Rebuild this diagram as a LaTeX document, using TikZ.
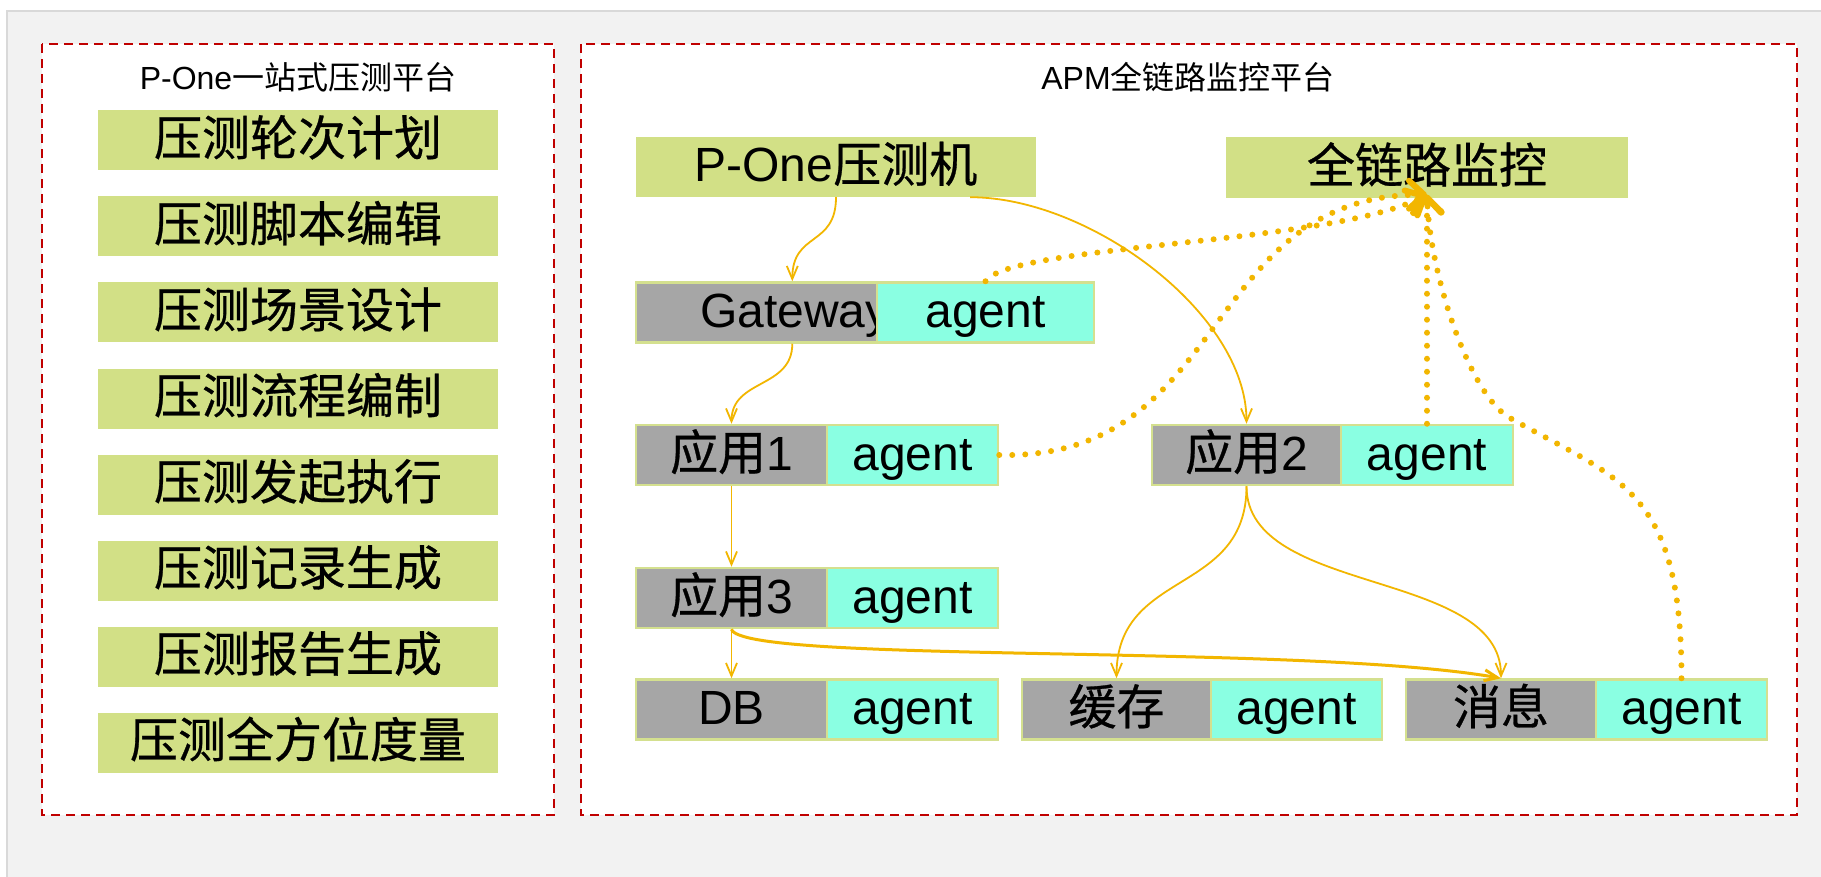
\documentclass[tikz,border=0pt]{standalone}
\usepackage{fontspec}
\setmainfont{Liberation Sans}
\newfontfamily\cjk[FakeBold=0.6]{Noto Sans CJK SC}
\newfontfamily\cjkt{Noto Sans CJK SC}
\usetikzlibrary{arrows.meta,calc}
\definecolor{bggray}{HTML}{F2F2F2}
\definecolor{bgline}{HTML}{D9D9D9}
\definecolor{pgreen}{HTML}{D2E086}
\definecolor{rowline}{HTML}{D4E08F}
\definecolor{cgray}{HTML}{A6A6A6}
\definecolor{ccyan}{HTML}{8AFFE2}
\definecolor{orng}{HTML}{F2B600}
\definecolor{dred}{HTML}{C00000}
\begin{document}
\begin{tikzpicture}[x=1pt,y=-1pt,
  redbox/.style={draw=dred, fill=white, line width=2.8pt, dash pattern=on 9pt off 6pt},
  title/.style={font=\fontsize{32}{34}\selectfont, inner sep=0pt},
  gbox/.style={fill=pgreen, minimum height=60pt, inner sep=0pt, text height=36pt, text depth=6pt, font=\fontsize{48}{50}\selectfont},
  cell/.style={draw=rowline, line width=2.5pt, minimum height=60pt, inner sep=0pt, text height=36pt, text depth=6pt, font=\fontsize{48}{50}\selectfont},
  gcell/.style={cell, fill=cgray},
  acell/.style={cell, fill=ccyan},
  conn/.style={draw=orng, line width=1.8pt, -{Straight Barb[length=13pt,width=11pt]}},
  connthick/.style={conn, line width=3pt},
  dotarrow/.style={draw=orng, line width=6pt, line cap=round, dash pattern=on 0pt off 13pt, -{Straight Barb[round,length=15pt,width=28pt]}}
]
\useasboundingbox (0,0) rectangle (1821,877);
\fill[white] (0,0) rectangle (1821,877);
\fill[bggray] (7,11) rectangle (1821,877);
\draw[bgline, line width=2pt] (7,877) -- (7,11) -- (1821,11);
\draw[redbox] (42,44) rectangle (554,815);
\draw[redbox] (581,44) rectangle (1797,815);

\node[title] (t1) at (298,77) {P-One{\cjkt 一站式压测平台}};
\node[title] (t2) at (1188,77) {APM{\cjkt 全链路监控平台}};

% left column
\node[gbox, minimum width=400pt] (l1) at (298,140.5) {\cjk 压测轮次计划};
\node[gbox, minimum width=400pt] (l2) at (298,226.5) {\cjk 压测脚本编辑};
\node[gbox, minimum width=400pt] (l3) at (298,312.5) {\cjk 压测场景设计};
\node[gbox, minimum width=400pt] (l4) at (298,398.5) {\cjk 压测流程编制};
\node[gbox, minimum width=400pt] (l5) at (298,484.5) {\cjk 压测发起执行};
\node[gbox, minimum width=400pt] (l6) at (298,570.5) {\cjk 压测记录生成};
\node[gbox, minimum width=400pt] (l7) at (298,656.5) {\cjk 压测报告生成};
\node[gbox, minimum width=400pt] (l8) at (298,742.5) {\cjk 压测全方位度量};

% right side
\node[gbox, minimum width=400pt] (pone) at (836,167) {P-One{\cjk 压测机}};
\node[gbox, minimum width=402pt, minimum height=61pt] (qlj) at (1427,168) {\cjk 全链路监控};

\node[gcell, minimum width=241pt] (gw) at (756.5,312.5) {};
\node[anchor=base west, inner sep=0pt, font=\fontsize{48}{50}\selectfont] (gwt) at (700,327.5) {Gateway};
\node[acell, minimum width=217pt] (gwa) at (985.5,312.5) {agent};

\node[gcell, minimum width=191pt] (a1) at (731.5,455) {{\cjk 应用}1};
\node[acell, minimum width=171pt] (a1a) at (912.5,455) {agent};
\node[gcell, minimum width=189pt] (a2) at (1246.5,455) {{\cjk 应用}2};
\node[acell, minimum width=172pt] (a2a) at (1427,455) {agent};
\node[gcell, minimum width=191pt] (a3) at (731.5,598) {{\cjk 应用}3};
\node[acell, minimum width=171pt] (a3a) at (912.5,598) {agent};
\node[gcell, minimum width=191pt] (db) at (731.5,709.5) {DB};
\node[acell, minimum width=171pt] (dba) at (912.5,709.5) {agent};
\node[gcell, minimum width=189pt] (hc) at (1116.5,709.5) {\cjk 缓存};
\node[acell, minimum width=171pt] (hca) at (1296.5,709.5) {agent};
\node[gcell, minimum width=190pt] (xx) at (1501,709.5) {\cjk 消息};
\node[acell, minimum width=171pt] (xxa) at (1681.5,709.5) {agent};

% solid connectors
\draw[conn] (pone.south) .. controls +(0,50) and +(0,-50) .. ($(gw.north west)!0.647!(gw.north east)$);
\draw[conn] ($(pone.south west)!0.835!(pone.south east)$) .. controls +(120,0) and +(0,-110) .. (a2.north);
\draw[conn] ($(gw.south west)!0.647!(gw.south east)$) .. controls +(0,45) and +(0,-45) .. (a1.north);
\draw[conn] (a1.south) -- (a3.north);
\draw[conn] (a3.south) -- (db.north);
\draw[connthick] (a3.south) .. controls +(10,35) and +(-200,-35) .. (xx.north);
\draw[conn] (a2.south) .. controls +(0,110) and +(0,-110) .. (hc.north);
\draw[conn] (a2.south) .. controls +(0,110) and +(0,-110) .. (xx.north);

% dotted monitoring connectors
\coordinate (tip) at ($(qlj.south)+(0,-4)$);
\coordinate (dmid) at (1510,418);
\draw[dotarrow] (gwa.north) .. controls +(25,-37) and +(-97,50) .. (tip);
\draw[dotarrow] (a1a.east) .. controls +(232,5) and +(-227,0) .. (tip);
\draw[dotarrow] (a2a.north) -- (tip);
\draw[dotarrow] (xxa.north) .. controls +(0,-190) and +(110,62) .. (dmid) .. controls +(-40,-22) and +(3,80) .. (tip);
\end{tikzpicture}
\end{document}
